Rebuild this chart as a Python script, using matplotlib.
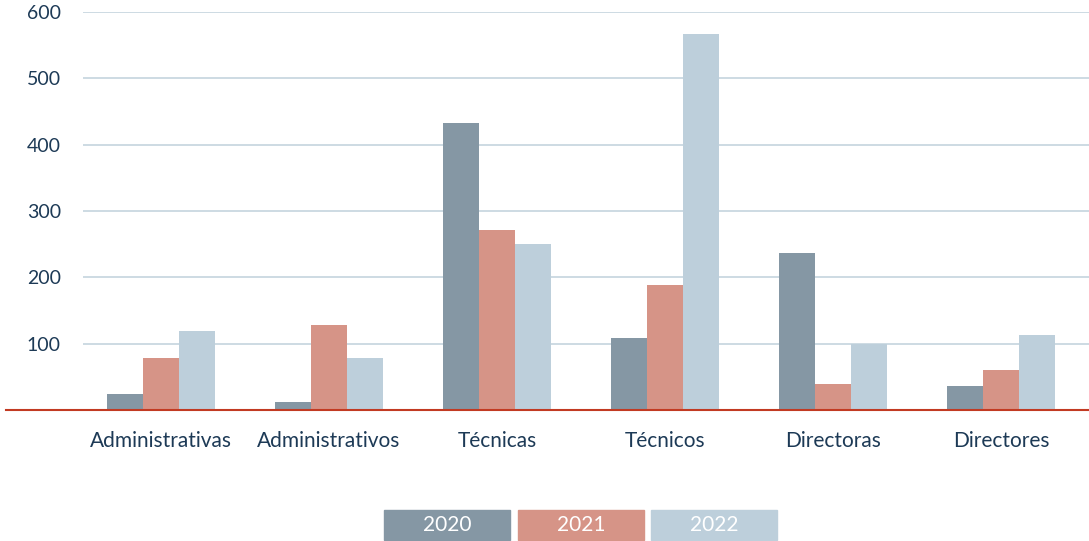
import matplotlib
matplotlib.use('Agg')
from matplotlib import pyplot as plt
from matplotlib.patches import Rectangle
from matplotlib.lines import Line2D
import numpy as np

categories = ['Administrativas', 'Administrativos', 'Técnicas', 'Técnicos', 'Directoras', 'Directores']
years = ['2020', '2021', '2022']
vals_2020 = [24, 12, 433, 109, 237, 36]
vals_2021 = [78, 128, 271, 189, 39, 60]
vals_2022 = [119, 78, 250, 567, 100, 113]
yticks = [100, 200, 300, 400, 500, 600]

colors = ['#8597a4', '#d69487', '#bdcfdb']
textcol = '#1d3a56'
plt.rcParams['font.family'] = ['Lato', 'DejaVu Sans']

W, H = 1089, 541
fig = plt.figure(figsize=(W / 100, H / 100), dpi=100)
ax = fig.add_axes([83 / W, 1 - 410 / H, (W - 83) / W, 398 / H])

x = np.arange(len(categories))
bw = 0.214
for k, vals in enumerate([vals_2020, vals_2021, vals_2022]):
    ax.bar(x + (k - 1) * bw, vals, width=bw, color=colors[k], zorder=3)

ax.set_xlim(-0.464, 5.524)
ax.set_ylim(0, 600)
ax.set_yticks(yticks)
ax.set_yticklabels([str(t) for t in yticks], fontsize=14, color=textcol)
ax.set_xticks(x)
ax.set_xticklabels(categories, fontsize=15, color=textcol)
ax.tick_params(axis='both', length=0)
ax.tick_params(axis='y', pad=16)
ax.tick_params(axis='x', pad=15)
ax.grid(axis='y', color='#c9d8e1', linewidth=1.3, zorder=0)
for s in ax.spines.values():
    s.set_visible(False)

# red baseline, runs out past the axes on the left
fig.add_artist(Line2D([6 / W, 1], [1 - 410 / H, 1 - 410 / H], color='#c23a22', linewidth=1.5, zorder=5))

# legend: coloured boxes with white labels
bx = [384, 518, 651]
for k, yr in enumerate(years):
    fig.add_artist(Rectangle((bx[k] / W, 1 - 540 / H), 126 / W, 30 / H, color=colors[k], transform=fig.transFigure))
    fig.text((bx[k] + 63) / W, 1 - 525 / H, yr, color='white', fontsize=15, ha='center', va='center')

fig.savefig('out.png', dpi=100)
